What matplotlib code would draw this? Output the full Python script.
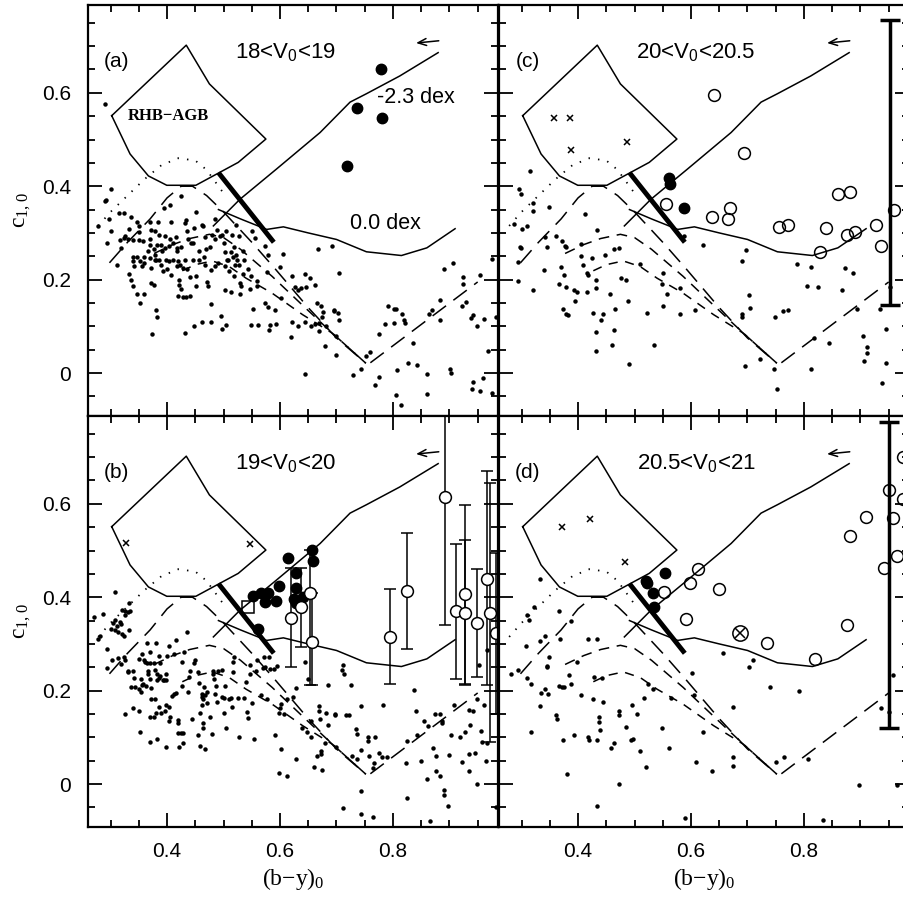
import numpy as np
import matplotlib.pyplot as plt
from matplotlib.ticker import MultipleLocator, FuncFormatter

plt.rcParams['font.family'] = ['Liberation Sans', 'DejaVu Sans']

# ---- model curves (same in all four panels) ----
BOX_X = [0.302, 0.434, 0.475, 0.575, 0.526, 0.451, 0.3995, 0.367, 0.3345, 0.302]
BOX_Y = [0.551, 0.702, 0.619, 0.501, 0.451, 0.402, 0.402, 0.422, 0.469, 0.551]
THICK_X = [0.491, 0.589]
THICK_Y = [0.429, 0.280]
M23_X = [0.482, 0.529, 0.594, 0.671, 0.724, 0.753, 0.812, 0.880]
M23_Y = [0.315, 0.372, 0.437, 0.515, 0.580, 0.598, 0.636, 0.686]
M00_X = [0.491, 0.53, 0.5765, 0.606, 0.65, 0.700, 0.753, 0.815, 0.86, 0.910]
M00_Y = [0.350, 0.33, 0.3075, 0.313, 0.300, 0.286, 0.2596, 0.2516, 0.268, 0.309]
DOT_X = [0.278, 0.30, 0.33, 0.36, 0.39, 0.42, 0.45, 0.47, 0.485, 0.50]
DOT_Y = [0.315, 0.345, 0.38, 0.415, 0.445, 0.46, 0.455, 0.435, 0.41, 0.385]
L1_X = [0.298, 0.33, 0.37, 0.40, 0.425, 0.445, 0.47, 0.50, 0.55, 0.59, 0.65, 0.70, 0.752]
L1_Y = [0.236, 0.28, 0.33, 0.375, 0.40, 0.40, 0.38, 0.345, 0.28, 0.225, 0.14, 0.075, 0.021]
L2_X = [0.377, 0.41, 0.44, 0.475, 0.50, 0.53, 0.586, 0.64, 0.693, 0.752]
L2_Y = [0.256, 0.275, 0.288, 0.297, 0.290, 0.265, 0.207, 0.145, 0.085, 0.021]
L3_X = [0.427, 0.45, 0.48, 0.51, 0.54, 0.586, 0.64, 0.693, 0.752]
L3_Y = [0.219, 0.232, 0.240, 0.228, 0.203, 0.171, 0.125, 0.085, 0.021]
V_X = [0.760, 0.950]
V_Y = [0.022, 0.195]
ARROW_HEAD = (0.836, 0.706)
ARROW_TAIL = (0.886, 0.712)

# ---- panel (a) 18<V0<19 ----
A_DOTS = [(0.300, 0.395), (0.291, 0.370), (0.425, 0.380), (0.395, 0.354), (0.406, 0.360),
    (0.278, 0.315), (0.297, 0.329), (0.315, 0.343), (0.324, 0.342), (0.336, 0.334),
    (0.301, 0.304), (0.294, 0.279), (0.312, 0.232), (0.319, 0.268), (0.317, 0.285),
    (0.324, 0.289), (0.326, 0.294), (0.331, 0.286), (0.333, 0.309), (0.339, 0.284),
    (0.347, 0.324), (0.351, 0.315), (0.351, 0.302), (0.351, 0.284), (0.358, 0.283),
    (0.370, 0.324), (0.372, 0.306), (0.378, 0.304), (0.384, 0.324), (0.386, 0.296),
    (0.370, 0.286), (0.369, 0.275), (0.367, 0.262), (0.376, 0.265), (0.378, 0.253),
    (0.380, 0.241), (0.383, 0.274), (0.389, 0.274), (0.391, 0.261), (0.396, 0.294),
    (0.396, 0.268), (0.403, 0.271), (0.405, 0.286), (0.407, 0.324), (0.411, 0.279),
    (0.415, 0.291), (0.417, 0.268), (0.418, 0.262), (0.425, 0.269), (0.432, 0.322),
    (0.433, 0.328), (0.435, 0.305), (0.437, 0.286), (0.443, 0.278), (0.446, 0.279),
    (0.448, 0.311), (0.452, 0.345), (0.457, 0.262), (0.461, 0.318), (0.464, 0.314),
    (0.468, 0.291), (0.469, 0.266), (0.476, 0.269), (0.479, 0.295), (0.484, 0.329),
    (0.484, 0.286), (0.488, 0.306), (0.494, 0.294), (0.498, 0.295), (0.501, 0.279),
    (0.502, 0.259), (0.505, 0.305), (0.508, 0.243), (0.513, 0.259), (0.518, 0.269),
    (0.515, 0.296), (0.522, 0.317), (0.522, 0.253), (0.523, 0.242), (0.527, 0.294),
    (0.535, 0.261), (0.551, 0.304), (0.556, 0.289), (0.573, 0.271), (0.579, 0.252),
    (0.606, 0.255), (0.600, 0.228), (0.577, 0.216), (0.339, 0.248), (0.340, 0.239),
    (0.341, 0.229), (0.347, 0.248), (0.352, 0.239), (0.356, 0.229), (0.359, 0.248),
    (0.360, 0.236), (0.370, 0.246), (0.371, 0.225), (0.378, 0.242), (0.385, 0.243),
    (0.389, 0.231), (0.393, 0.219), (0.398, 0.243), (0.400, 0.222), (0.404, 0.239),
    (0.407, 0.210), (0.411, 0.241), (0.417, 0.229), (0.419, 0.239), (0.423, 0.232),
    (0.428, 0.225), (0.431, 0.241), (0.436, 0.222), (0.441, 0.206), (0.446, 0.241),
    (0.452, 0.208), (0.452, 0.186), (0.456, 0.241), (0.466, 0.248), (0.468, 0.232),
    (0.471, 0.195), (0.472, 0.187), (0.478, 0.220), (0.484, 0.229), (0.491, 0.236),
    (0.502, 0.229), (0.507, 0.243), (0.509, 0.219), (0.517, 0.248), (0.518, 0.208),
    (0.520, 0.232), (0.528, 0.231), (0.529, 0.193), (0.531, 0.186), (0.534, 0.212),
    (0.537, 0.242), (0.543, 0.222), (0.547, 0.180), (0.549, 0.208), (0.560, 0.187),
    (0.560, 0.198), (0.502, 0.177), (0.514, 0.173), (0.529, 0.169), (0.332, 0.213),
    (0.337, 0.200), (0.340, 0.186), (0.346, 0.169), (0.352, 0.150), (0.360, 0.169),
    (0.371, 0.192), (0.376, 0.189), (0.380, 0.136), (0.382, 0.119), (0.374, 0.084),
    (0.422, 0.199), (0.422, 0.189), (0.425, 0.179), (0.420, 0.165), (0.428, 0.163),
    (0.433, 0.163), (0.441, 0.165), (0.431, 0.086), (0.448, 0.101), (0.462, 0.110),
    (0.478, 0.110), (0.478, 0.147), (0.496, 0.123), (0.498, 0.094), (0.504, 0.103),
    (0.549, 0.103), (0.561, 0.103), (0.553, 0.137), (0.574, 0.149), (0.579, 0.142),
    (0.592, 0.136), (0.583, 0.103), (0.593, 0.104), (0.581, 0.093), (0.602, 0.160),
    (0.621, 0.110), (0.619, 0.078), (0.622, 0.208), (0.626, 0.185), (0.632, 0.177),
    (0.632, 0.100), (0.638, 0.182), (0.645, 0.213), (0.646, 0.185), (0.653, 0.203),
    (0.662, 0.189), (0.645, 0.109), (0.655, 0.101), (0.662, 0.106), (0.666, 0.150),
    (0.669, 0.107), (0.669, 0.091), (0.673, 0.143), (0.675, 0.119), (0.677, 0.130),
    (0.680, 0.058), (0.645, -0.003), (0.667, 0.265), (0.692, 0.272), (0.682, 0.100),
    (0.695, 0.133), (0.700, 0.038), (0.700, 0.080), (0.290, 0.576), (0.290, 0.368),
    (0.705, 0.214), (0.696, 0.134), (0.703, 0.128), (0.705, 0.113), (0.775, 0.084),
    (0.792, 0.144), (0.802, 0.137), (0.805, 0.137), (0.816, 0.127), (0.820, 0.113),
    (0.821, 0.108), (0.786, 0.104), (0.802, 0.107), (0.753, 0.037), (0.760, 0.044),
    (0.730, -0.005), (0.743, 0.008), (0.775, -0.009), (0.768, -0.026), (0.808, 0.007),
    (0.827, 0.021), (0.842, 0.017), (0.835, 0.065), (0.860, -0.002), (0.805, -0.048),
    (0.815, -0.068), (0.861, -0.045), (0.864, 0.127), (0.869, 0.134), (0.883, 0.114),
    (0.883, 0.157), (0.891, 0.223), (0.906, 0.236), (0.901, 0.008), (0.902, -0.001),
    (0.924, 0.206), (0.924, 0.190), (0.922, 0.144), (0.929, 0.153), (0.941, 0.124),
    (0.939, 0.117), (0.949, 0.100), (0.962, 0.115), (0.954, 0.209), (0.975, 0.245),
    (0.983, 0.121), (0.969, 0.047), (0.941, -0.019), (0.959, -0.011), (0.940, -0.034),
    (0.955, -0.038), (0.975, -0.042)]
A_FILLED = [(0.778, 0.650), (0.737, 0.568), (0.781, 0.547), (0.719, 0.444)]

# ---- panel (b) 19<V0<20 ----
B_DOTS = [(0.308, 0.411), (0.271, 0.358), (0.287, 0.365), (0.333, 0.387), (0.321, 0.372),
    (0.325, 0.370), (0.330, 0.368), (0.334, 0.371), (0.326, 0.361), (0.307, 0.352),
    (0.304, 0.344), (0.317, 0.347), (0.319, 0.342), (0.300, 0.332), (0.307, 0.329),
    (0.314, 0.325), (0.321, 0.322), (0.323, 0.318), (0.332, 0.329), (0.311, 0.338),
    (0.281, 0.317), (0.277, 0.311), (0.294, 0.289), (0.302, 0.266), (0.294, 0.249),
    (0.313, 0.269), (0.318, 0.258), (0.326, 0.266), (0.323, 0.272), (0.330, 0.243),
    (0.331, 0.239), (0.340, 0.243), (0.341, 0.226), (0.337, 0.208), (0.343, 0.208),
    (0.354, 0.225), (0.356, 0.212), (0.351, 0.203), (0.353, 0.198), (0.358, 0.215),
    (0.363, 0.209), (0.371, 0.205), (0.370, 0.225), (0.367, 0.235), (0.366, 0.243),
    (0.364, 0.259), (0.365, 0.302), (0.380, 0.302), (0.356, 0.279), (0.351, 0.268),
    (0.359, 0.266), (0.361, 0.262), (0.369, 0.259), (0.370, 0.282), (0.376, 0.259),
    (0.378, 0.245), (0.382, 0.235), (0.382, 0.222), (0.386, 0.275), (0.387, 0.259),
    (0.385, 0.228), (0.387, 0.232), (0.393, 0.223), (0.395, 0.222), (0.398, 0.222),
    (0.399, 0.235), (0.400, 0.275), (0.403, 0.295), (0.415, 0.308), (0.413, 0.278),
    (0.426, 0.261), (0.430, 0.282), (0.435, 0.325), (0.339, 0.162), (0.351, 0.157),
    (0.325, 0.149), (0.352, 0.111), (0.370, 0.143), (0.376, 0.144), (0.370, 0.090),
    (0.382, 0.097), (0.372, 0.183), (0.379, 0.182), (0.385, 0.165), (0.390, 0.152),
    (0.380, 0.152), (0.396, 0.157), (0.399, 0.169), (0.404, 0.165), (0.409, 0.189),
    (0.412, 0.193), (0.406, 0.144), (0.404, 0.136), (0.399, 0.080), (0.419, 0.137),
    (0.419, 0.130), (0.420, 0.110), (0.424, 0.110), (0.428, 0.110), (0.422, 0.080),
    (0.429, 0.087), (0.416, 0.195), (0.426, 0.210), (0.437, 0.198), (0.441, 0.242),
    (0.439, 0.229), (0.445, 0.140), (0.448, 0.259), (0.455, 0.239), (0.450, 0.265),
    (0.457, 0.216), (0.462, 0.193), (0.462, 0.186), (0.464, 0.182), (0.468, 0.190),
    (0.466, 0.208), (0.470, 0.198), (0.470, 0.173), (0.461, 0.169), (0.459, 0.153),
    (0.463, 0.130), (0.464, 0.119), (0.455, 0.104), (0.459, 0.081), (0.468, 0.076),
    (0.479, 0.107), (0.476, 0.144), (0.481, 0.235), (0.482, 0.243), (0.483, 0.225),
    (0.487, 0.209), (0.485, 0.193), (0.488, 0.175), (0.491, 0.243), (0.498, 0.245),
    (0.497, 0.186), (0.500, 0.185), (0.501, 0.153), (0.505, 0.121), (0.515, 0.165),
    (0.513, 0.185), (0.517, 0.239), (0.518, 0.272), (0.516, 0.262), (0.503, 0.210),
    (0.510, 0.183), (0.525, 0.185), (0.528, 0.100), (0.536, 0.185), (0.540, 0.218),
    (0.541, 0.154), (0.543, 0.142), (0.546, 0.236), (0.551, 0.173), (0.554, 0.097),
    (0.547, 0.255), (0.560, 0.266), (0.557, 0.241), (0.566, 0.190), (0.572, 0.272),
    (0.569, 0.249), (0.573, 0.251), (0.577, 0.183), (0.580, 0.271), (0.583, 0.246),
    (0.589, 0.246), (0.592, 0.104), (0.594, 0.253), (0.600, 0.162), (0.601, 0.172),
    (0.599, 0.153), (0.601, 0.074), (0.599, 0.024), (0.613, 0.018), (0.607, 0.150),
    (0.613, 0.183), (0.623, 0.186), (0.628, 0.205), (0.629, 0.053), (0.639, 0.121),
    (0.645, 0.262), (0.648, 0.111), (0.649, 0.225), (0.655, 0.100), (0.669, 0.167),
    (0.669, 0.157), (0.682, 0.152), (0.685, 0.127), (0.697, 0.147), (0.671, 0.139),
    (0.673, 0.071), (0.673, 0.064), (0.665, 0.060), (0.661, 0.037), (0.674, 0.030),
    (0.680, 0.088), (0.685, 0.213), (0.699, 0.080), (0.654, 0.136),
    (0.712, 0.255), (0.710, 0.245), (0.714, 0.235), (0.726, 0.211), (0.697, 0.150),
    (0.717, 0.147), (0.722, 0.147), (0.744, 0.167), (0.782, 0.170), (0.735, 0.117),
    (0.736, 0.108), (0.756, 0.101), (0.756, 0.093), (0.769, 0.100), (0.743, 0.073),
    (0.737, 0.054), (0.727, 0.060), (0.758, 0.060), (0.775, 0.067), (0.781, 0.057),
    (0.789, 0.057), (0.766, 0.044), (0.764, 0.034), (0.744, -0.015), (0.712, -0.052),
    (0.744, -0.064), (0.765, -0.071), (0.837, 0.202), (0.841, 0.157), (0.824, 0.093),
    (0.842, 0.105), (0.855, 0.134), (0.862, 0.125), (0.875, 0.151), (0.883, 0.150),
    (0.886, 0.134), (0.887, 0.130), (0.823, 0.044), (0.849, 0.050), (0.824, -0.029),
    (0.860, 0.010), (0.871, 0.077), (0.877, 0.060), (0.876, 0.027), (0.884, 0.017),
    (0.891, -0.013), (0.891, -0.023), (0.897, -0.046), (0.866, -0.079), (0.908, 0.170),
    (0.934, 0.158), (0.942, 0.156), (0.949, 0.181), (0.962, 0.170), (0.937, 0.127),
    (0.927, 0.111), (0.919, 0.100), (0.902, 0.104), (0.899, 0.063), (0.923, 0.047),
    (0.934, 0.064), (0.946, 0.067), (0.934, 0.027), (0.956, 0.114), (0.958, 0.090),
    (0.966, 0.087), (0.948, 0.000), (0.953, 0.255), (0.966, 0.287), (0.964, 0.050),
    (0.982, -0.049)]
B_FILLED = [(0.553, 0.403), (0.566, 0.410), (0.579, 0.410), (0.573, 0.390), (0.593, 0.392),
    (0.599, 0.424), (0.615, 0.483), (0.628, 0.452), (0.628, 0.419), (0.624, 0.396),
    (0.628, 0.387), (0.640, 0.401), (0.657, 0.501), (0.658, 0.478), (0.5605, 0.331)]
B_OPEN_X = [0.619, 0.638, 0.653, 0.657, 0.795, 0.825, 0.893, 0.912, 0.927, 0.927, 0.948, 0.967, 0.972, 0.982]
B_OPEN_Y = [0.356, 0.380, 0.410, 0.305, 0.315, 0.414, 0.615, 0.370, 0.407, 0.367, 0.345, 0.440, 0.367, 0.324]
B_ERR_LO = [0.251, 0.294, 0.212, 0.212, 0.214, 0.290, 0.340, 0.225, 0.214, 0.211, 0.230, 0.211, 0.090, 0.151]
B_ERR_HI = [0.462, 0.463, 0.501, 0.408, 0.418, 0.537, 0.820, 0.514, 0.597, 0.522, 0.460, 0.671, 0.645, 0.494]
B_SQUARE = [(0.544, 0.378)]
B_CROSS = [(0.327, 0.517), (0.547, 0.515)]

# ---- panel (c) 20<V0<20.5 ----
C_DOTS = [(0.315, 0.433), (0.296, 0.393), (0.299, 0.383), (0.320, 0.365), (0.321, 0.346),
    (0.349, 0.355), (0.287, 0.320), (0.300, 0.309), (0.309, 0.314), (0.297, 0.270),
    (0.299, 0.267), (0.293, 0.238), (0.293, 0.198), (0.320, 0.178), (0.340, 0.221),
    (0.342, 0.291), (0.345, 0.269), (0.361, 0.293), (0.372, 0.283), (0.376, 0.271),
    (0.378, 0.269), (0.369, 0.228), (0.375, 0.210), (0.367, 0.191), (0.378, 0.184),
    (0.392, 0.177), (0.398, 0.174), (0.395, 0.154), (0.374, 0.137), (0.378, 0.127),
    (0.382, 0.124), (0.406, 0.276), (0.406, 0.251), (0.408, 0.231), (0.415, 0.214),
    (0.415, 0.174), (0.417, 0.210), (0.413, 0.340), (0.425, 0.246), (0.426, 0.128),
    (0.431, 0.181), (0.432, 0.088), (0.432, 0.048), (0.433, 0.307), (0.432, 0.200),
    (0.440, 0.114), (0.445, 0.127), (0.448, 0.253), (0.457, 0.170), (0.460, 0.061),
    (0.463, 0.266), (0.463, 0.092), (0.465, 0.137), (0.473, 0.267), (0.476, 0.204),
    (0.485, 0.200), (0.489, 0.154), (0.490, 0.020), (0.510, 0.233), (0.522, 0.128),
    (0.535, 0.059), (0.549, 0.191), (0.550, 0.144), (0.558, 0.170), (0.551, 0.214),
    (0.581, 0.183), (0.581, 0.127), (0.607, 0.135), (0.622, 0.274), (0.587, 0.293),
    (0.690, 0.240), (0.697, 0.263), (0.690, 0.119), (0.691, 0.127), (0.702, 0.168),
    (0.704, 0.139), (0.695, 0.015), (0.722, 0.029), (0.747, 0.009), (0.752, -0.035),
    (0.749, 0.119), (0.763, 0.132), (0.772, 0.135), (0.787, 0.233), (0.813, 0.227),
    (0.805, 0.187), (0.825, 0.184), (0.818, 0.075), (0.845, 0.065), (0.813, 0.008),
    (0.873, 0.225), (0.886, 0.214), (0.868, 0.177), (0.894, 0.137), (0.905, 0.079),
    (0.912, 0.055), (0.912, 0.042), (0.907, 0.026), (0.935, 0.137), (0.945, 0.094),
    (0.945, 0.022), (0.938, -0.021), (0.952, 0.185)]
C_FILLED = [(0.561, 0.4185), (0.562, 0.404), (0.588, 0.354)]
C_OPEN = [(0.641, 0.596), (0.693, 0.471), (0.555, 0.361), (0.638, 0.335), (0.665, 0.329),
    (0.669, 0.353), (0.756, 0.313), (0.772, 0.317), (0.860, 0.384), (0.881, 0.388),
    (0.839, 0.311), (0.876, 0.296), (0.891, 0.302), (0.828, 0.259), (0.927, 0.316),
    (0.937, 0.273), (0.959, 0.348)]
C_CROSS = [(0.358, 0.546), (0.385, 0.546), (0.387, 0.477), (0.487, 0.494)]
C_BAR = (0.952, 0.146, 0.755)

# ---- panel (d) 20.5<V0<21 ----
D_DOTS = [(0.332, 0.439), (0.322, 0.380), (0.309, 0.362), (0.314, 0.351), (0.308, 0.295),
    (0.332, 0.307), (0.342, 0.318), (0.349, 0.272), (0.345, 0.252), (0.345, 0.250),
    (0.368, 0.311), (0.366, 0.370), (0.388, 0.350), (0.281, 0.235), (0.293, 0.245),
    (0.310, 0.227), (0.316, 0.215), (0.335, 0.195), (0.342, 0.204), (0.347, 0.192),
    (0.332, 0.167), (0.361, 0.147), (0.363, 0.140), (0.366, 0.210), (0.371, 0.208),
    (0.375, 0.208), (0.384, 0.233), (0.387, 0.215), (0.398, 0.261), (0.417, 0.310),
    (0.428, 0.230), (0.405, 0.190), (0.426, 0.181), (0.433, 0.311), (0.443, 0.228),
    (0.445, 0.175), (0.437, 0.144), (0.437, 0.133), (0.438, 0.115), (0.316, 0.111),
    (0.373, 0.095), (0.392, 0.104), (0.417, 0.100), (0.420, 0.095), (0.433, 0.094),
    (0.381, 0.021), (0.433, -0.046), (0.463, 0.088), (0.458, 0.078), (0.472, 0.157),
    (0.473, 0.147), (0.484, 0.123), (0.497, 0.097), (0.493, 0.094), (0.496, 0.170),
    (0.505, 0.150), (0.516, 0.185), (0.520, 0.037), (0.509, 0.071), (0.472, 0.000),
    (0.523, 0.215), (0.533, 0.203), (0.549, 0.121), (0.561, 0.078), (0.565, 0.185),
    (0.601, 0.237), (0.605, 0.190), (0.622, 0.111), (0.608, 0.047), (0.637, 0.028),
    (0.657, 0.280), (0.674, 0.165), (0.674, 0.058), (0.674, 0.038), (0.703, 0.251),
    (0.710, 0.265), (0.739, 0.207), (0.751, 0.048), (0.765, 0.058), (0.791, 0.200),
    (0.808, 0.054), (0.898, -0.002), (0.937, 0.162), (0.950, 0.154), (0.958, 0.233),
    (0.833, -0.077), (0.590, -0.072), (0.964, -0.002)]
D_FILLED = [(0.520, 0.435), (0.522, 0.430), (0.533, 0.408), (0.554, 0.451), (0.535, 0.378)]
D_OPEN = [(0.612, 0.460), (0.599, 0.431), (0.552, 0.412), (0.649, 0.417), (0.592, 0.353),
    (0.735, 0.301), (0.819, 0.267), (0.877, 0.340), (0.881, 0.532), (0.909, 0.571),
    (0.951, 0.629), (0.957, 0.569), (0.965, 0.489), (0.942, 0.463), (0.975, 0.610),
    (0.975, 0.700)]
D_OTIMES = [(0.687, 0.324)]
D_CROSS = [(0.371, 0.550), (0.422, 0.568), (0.483, 0.475)]
D_BAR = (0.951, 0.121, 0.776)

PANELS = {
    'a': dict(label='(a)', title=r'18<$\mathregular{V_0}$<19', dots=A_DOTS, filled=A_FILLED),
    'b': dict(label='(b)', title=r'19<$\mathregular{V_0}$<20', dots=B_DOTS, filled=B_FILLED,
              square=B_SQUARE, cross=B_CROSS),
    'c': dict(label='(c)', title=r'20<$\mathregular{V_0}$<20.5', dots=C_DOTS, filled=C_FILLED,
              open=C_OPEN, cross=C_CROSS, bar=C_BAR),
    'd': dict(label='(d)', title=r'20.5<$\mathregular{V_0}$<21', dots=D_DOTS, filled=D_FILLED,
              open=D_OPEN, cross=D_CROSS, bar=D_BAR, otimes=D_OTIMES),
}

W, H = 904, 900
fig = plt.figure(figsize=(W / 100, H / 100), dpi=100)
L, PW = 88 / W, 410 / W
R = 499 / W
TOPB, PH = 1 - 416 / H, 411 / H
BOTB = 1 - 827 / H
positions = {'a': [L, TOPB, PW, PH], 'b': [L, BOTB, PW, PH],
             'c': [R, TOPB, PW, PH], 'd': [R, BOTB, PW, PH]}
SERIF = ['Liberation Serif', 'DejaVu Serif']


def ytick_fmt(v, pos):
    return '0' if abs(v) < 1e-9 else '%.1f' % v


for key, p in PANELS.items():
    ax = fig.add_axes(positions[key])
    ax.set_xlim(0.26, 0.986)
    ax.set_ylim(-0.092, 0.788)

    # model curves
    ax.plot(BOX_X, BOX_Y, 'k-', lw=1.1)
    ax.plot(THICK_X, THICK_Y, 'k-', lw=3.5, solid_capstyle='butt')
    ax.plot(M23_X, M23_Y, 'k-', lw=1.1)
    ax.plot(M00_X, M00_Y, 'k-', lw=1.1)
    ax.plot(DOT_X, DOT_Y, 'k', lw=1.3, linestyle=(0, (0.8, 4.5)))
    ax.plot(L1_X, L1_Y, 'k', lw=1.1, linestyle=(0, (11, 6)))
    ax.plot(L2_X, L2_Y, 'k', lw=1.1, linestyle=(0, (7, 5)))
    ax.plot(L3_X, L3_Y, 'k', lw=1.1, linestyle=(0, (6, 5)))
    ax.plot(V_X, V_Y, 'k', lw=1.1, linestyle=(0, (11, 6)))
    ax.annotate('', xy=ARROW_HEAD, xytext=ARROW_TAIL,
                arrowprops=dict(arrowstyle='->,head_length=0.6,head_width=0.25', lw=1.1, color='k'))

    d = np.array(p['dots'])
    ax.plot(d[:, 0], d[:, 1], 'o', color='k', ms=3.2, mew=0)
    f = np.array(p['filled'])
    ax.plot(f[:, 0], f[:, 1], 'ko', ms=7.5)
    if 'open' in p:
        o = np.array(p['open'])
        ax.plot(o[:, 0], o[:, 1], 'o', mfc='none', mec='k', ms=8.5, mew=1.1)
    if 'cross' in p:
        c = np.array(p['cross'])
        ax.plot(c[:, 0], c[:, 1], 'kx', ms=4, mew=1.1)
    if 'square' in p:
        s = np.array(p['square'])
        ax.plot(s[:, 0], s[:, 1], 's', mfc='none', mec='k', ms=8.5, mew=1.1)
    if 'otimes' in p:
        t = np.array(p['otimes'])
        ax.plot(t[:, 0], t[:, 1], 'o', mfc='none', mec='k', ms=11, mew=1.1)
        ax.plot(t[:, 0], t[:, 1], 'kx', ms=7, mew=1.1)
    if 'bar' in p:
        bx, blo, bhi = p['bar']
        ax.errorbar([bx], [(blo + bhi) / 2], yerr=[[(bhi - blo) / 2]], fmt='none',
                    ecolor='k', elinewidth=2.5, capsize=7, capthick=2.5)
    if key == 'b':
        bx = np.array(B_OPEN_X)
        by = np.array(B_OPEN_Y)
        yerr = [by - np.array(B_ERR_LO), np.array(B_ERR_HI) - by]
        ax.errorbar(bx, by, yerr=yerr, fmt='none', ecolor='k', elinewidth=1.1,
                    capsize=4.5, capthick=1.1)
        ax.plot(bx, by, 'o', mfc='white', mec='k', ms=8.5, mew=1.1)

    # texts
    ax.text(0.311, 0.668, p['label'], fontsize=15, ha='center', va='center')
    ax.text(0.609, 0.685, p['title'], fontsize=16, ha='center', va='center')
    if key == 'a':
        ax.text(0.402, 0.550, 'RHB\u2212AGB', fontsize=12, ha='center', va='center',
                family=SERIF, weight='bold')
        ax.text(0.771, 0.591, '-2.3 dex', fontsize=15.5, ha='left', va='center')
        ax.text(0.786, 0.320, '0.0 dex', fontsize=15.5, ha='center', va='center')

    # axes styling
    ax.xaxis.set_major_locator(MultipleLocator(0.2))
    ax.xaxis.set_minor_locator(MultipleLocator(0.05))
    ax.yaxis.set_major_locator(MultipleLocator(0.2))
    ax.yaxis.set_minor_locator(MultipleLocator(0.05))
    ax.tick_params(which='both', direction='in', top=True, right=True, width=1.3)
    ax.tick_params(which='major', length=10)
    ax.tick_params(which='minor', length=5)
    ax.tick_params(axis='x', which='major', pad=11, labelsize=15)
    ax.tick_params(axis='y', which='major', pad=12, labelsize=15)
    for sp in ax.spines.values():
        sp.set_linewidth(1.6)
    ax.xaxis.set_major_formatter(FuncFormatter(lambda v, pos: '%.1f' % v))
    ax.yaxis.set_major_formatter(FuncFormatter(ytick_fmt))

    if key in ('a', 'c'):
        ax.tick_params(axis='x', labelbottom=False)
    else:
        ax.set_xlabel(r'$\mathregular{(b{-}y)_0}$', fontsize=17, family=SERIF)
        ax.xaxis.set_label_coords(0.5, -0.095)
    if key in ('c', 'd'):
        ax.tick_params(axis='y', labelleft=False)
    else:
        ax.set_ylabel(r'$\mathregular{c_{1,0}}$', fontsize=17, family=SERIF)
        ax.yaxis.set_label_coords(-0.135, 0.5)

fig.savefig('out.png', dpi=100)
